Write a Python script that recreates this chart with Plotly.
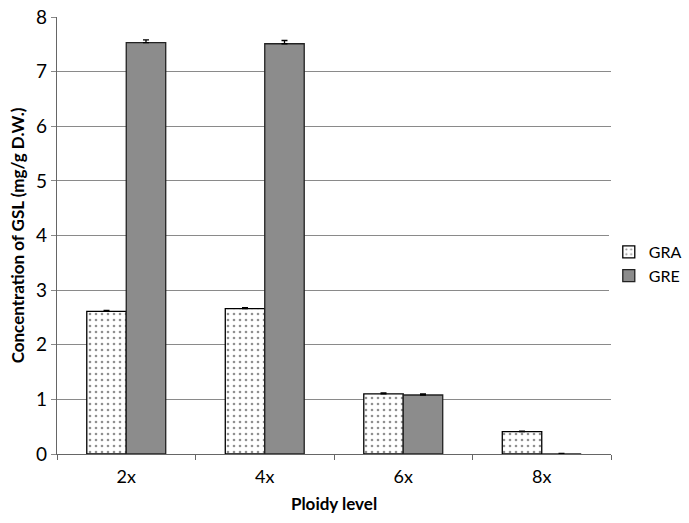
import plotly.graph_objects as go

categories = ["2x", "4x", "6x", "8x"]
gra_values = [2.61, 2.66, 1.10, 0.41]
gra_errors = [0.02, 0.02, 0.02, 0.01]
gre_values = [7.53, 7.51, 1.08, 0.0]
gre_errors = [0.05, 0.06, 0.02, 0.01]
zeros = [0, 0, 0, 0]
y_ticks = [0, 1, 2, 3, 4, 5, 6, 7, 8]

fig = go.Figure()
fig.add_trace(go.Bar(
    name="GRA", x=categories, y=gra_values,
    error_y=dict(type="data", array=gra_errors, arrayminus=zeros, symmetric=False,
                 visible=True, color="black", thickness=1.3, width=3),
    marker=dict(color="white", line=dict(color="black", width=1.3),
                pattern=dict(shape=".", fgcolor="#222222", bgcolor="white", size=6, solidity=0.15)),
))
fig.add_trace(go.Bar(
    name="GRE", x=categories, y=gre_values,
    error_y=dict(type="data", array=gre_errors, arrayminus=zeros, symmetric=False,
                 visible=True, color="black", thickness=1.3, width=3),
    marker=dict(color="#8c8c8c", line=dict(color="#222222", width=1.3)),
))

fig.update_layout(
    width=689, height=523,
    margin=dict(l=57, r=78, t=17, b=69, autoexpand=False),
    paper_bgcolor="white", plot_bgcolor="white",
    barmode="group", bargap=0.43, bargroupgap=0,
    font=dict(family="Lato, 'Open Sans', sans-serif", color="black"),
    showlegend=True,
    legend=dict(x=0.996, xanchor="left", y=0.435, yanchor="middle",
                font=dict(size=16), itemwidth=30, tracegroupgap=4),
    xaxis=dict(
        title=dict(text="<b>Ploidy level</b>", font=dict(size=17), standoff=12),
        showline=True, linecolor="#666666", linewidth=1.2,
        ticks="outside", tickson="boundaries", ticklen=5, tickcolor="#666666",
        tickfont=dict(size=18), showgrid=False, automargin=False,
        ticklabelstandoff=6,
    ),
    yaxis=dict(
        title=dict(text="<b>Concentration of GSL (mg/g D.W.)</b>", font=dict(size=17), standoff=7),
        range=[0, 8], tickvals=y_ticks,
        showline=True, linecolor="#666666", linewidth=1.2,
        ticks="outside", ticklen=5, tickcolor="#888888",
        showgrid=True, gridcolor="#8a8a8a", gridwidth=1.2,
        tickfont=dict(size=19), zeroline=False, automargin=False,
        ticklabeloverflow="allow",
    ),
)

fig.write_html("out.html", config={"displayModeBar": False},
               post_script="document.body.style.margin='0';")
